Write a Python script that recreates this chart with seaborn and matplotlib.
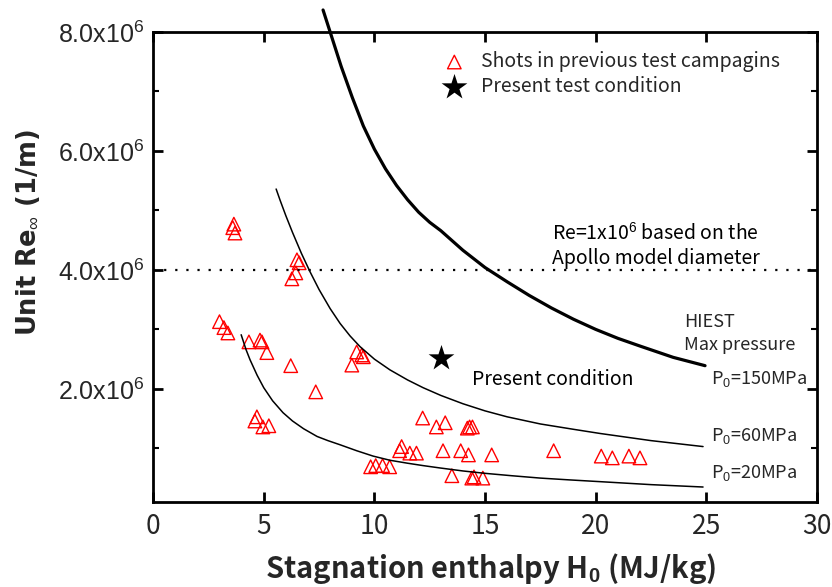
import numpy as np
import pandas as pd
import matplotlib
matplotlib.use("Agg")
import matplotlib.pyplot as plt
import seaborn as sns
from matplotlib.ticker import MultipleLocator, FuncFormatter

# Shots in previous test campaigns (H0 in MJ/kg, unit Re in 1e6 1/m)
prev_h0 = [3.65, 3.6, 3.7, 6.5, 6.6, 6.45, 6.27, 3.0, 3.2, 3.38,
           4.33, 4.83, 4.92, 5.14, 6.22, 7.35, 9.2, 9.43, 9.5, 8.98,
           4.69, 4.6, 4.96, 5.23, 12.18, 12.8, 13.2, 14.2, 14.3, 14.43,
           11.23, 11.14, 11.6, 11.9, 13.1, 13.9, 14.25, 15.3,
           9.83, 10.06, 10.37, 10.69, 13.5, 14.4, 14.5, 14.9,
           18.1, 20.25, 20.75, 21.5, 22.0]
prev_re = [4.77, 4.71, 4.62, 4.17, 4.12, 3.95, 3.85, 3.13, 3.03, 2.94,
           2.79, 2.82, 2.79, 2.61, 2.39, 1.95, 2.62, 2.57, 2.54, 2.40,
           1.53, 1.46, 1.36, 1.38, 1.51, 1.36, 1.43, 1.34, 1.36, 1.36,
           1.03, 0.96, 0.92, 0.92, 0.96, 0.96, 0.89, 0.89,
           0.69, 0.71, 0.71, 0.69, 0.54, 0.50, 0.52, 0.50,
           0.96, 0.87, 0.84, 0.87, 0.84]

# Present test condition
present_h0 = [13.0]
present_re = [2.52]

# HIEST max pressure curves
h0_150 = [7.68, 8.0, 8.5, 9.0, 9.5, 10.0, 10.5, 11.0, 11.5, 12.0, 12.5, 13.0, 14.0, 15.0,
          16.0, 17.0, 18.0, 19.0, 20.0, 21.0, 22.0, 23.5, 24.94]
re_150 = [8.37, 8.0, 7.42, 6.9, 6.42, 6.03, 5.70, 5.42, 5.18, 4.97, 4.80, 4.66, 4.33, 4.04,
          3.80, 3.57, 3.36, 3.17, 3.0, 2.85, 2.72, 2.53, 2.39]

h0_60 = [5.56, 5.74, 6.0, 6.3, 6.7, 7.09, 7.5, 8.0, 8.45, 8.9, 9.35, 10.0, 10.7, 11.5,
         12.2, 13.0, 14.0, 15.0, 16.0, 17.5, 19.0, 20.2, 22.5, 24.85]
re_60 = [5.36, 5.17, 4.91, 4.63, 4.28, 3.97, 3.67, 3.35, 3.10, 2.89, 2.71, 2.50, 2.32, 2.15,
         2.02, 1.89, 1.75, 1.63, 1.53, 1.41, 1.32, 1.25, 1.13, 1.03]

h0_20 = [3.98, 4.2, 4.38, 4.7, 5.0, 5.4, 5.87, 6.3, 6.8, 7.41, 7.9, 8.45, 9.2, 9.94, 10.7,
         11.5, 12.2, 12.97, 14.0, 15.0, 16.2, 17.5, 18.8, 20.2, 22.5, 24.85]
re_20 = [2.91, 2.66, 2.49, 2.23, 2.02, 1.80, 1.60, 1.46, 1.33, 1.20, 1.13, 1.06, 0.96, 0.87, 0.80,
         0.75, 0.71, 0.67, 0.62, 0.58, 0.54, 0.50, 0.47, 0.44, 0.39, 0.35]

apollo_re = 4.0

sns.set_theme(style="ticks")
plt.rcParams["font.family"] = ["Noto Sans CJK JP", "DejaVu Sans"]
plt.rcParams["mathtext.fontset"] = "custom"
plt.rcParams["mathtext.rm"] = "Liberation Sans"
plt.rcParams["mathtext.it"] = "Liberation Sans:italic"
plt.rcParams["mathtext.bf"] = "Liberation Sans:bold"

fig, ax = plt.subplots(figsize=(8.32, 5.87), dpi=100)
fig.subplots_adjust(left=0.184, right=0.982, bottom=0.145, top=0.9455)

df_prev = pd.DataFrame({"H0": prev_h0, "Re": prev_re})
df_now = pd.DataFrame({"H0": present_h0, "Re": present_re})

ax.axhline(apollo_re, color="black", lw=1.6, ls=(0, (1, 4)))

sns.lineplot(x=h0_150, y=re_150, sort=False, estimator=None, color="black", lw=2.3, ax=ax, clip_on=False)
sns.lineplot(x=h0_60, y=re_60, sort=False, estimator=None, color="black", lw=1.1, ax=ax)
sns.lineplot(x=h0_20, y=re_20, sort=False, estimator=None, color="black", lw=1.1, ax=ax)

sns.scatterplot(data=df_prev, x="H0", y="Re", marker="^", s=95, facecolors="none",
                edgecolor="red", linewidth=1.0, ax=ax, label="Shots in previous test campagins")
sns.scatterplot(data=df_now, x="H0", y="Re", marker="*", s=380, color="black",
                edgecolor="black", linewidth=0, ax=ax, label="Present test condition")

ax.set_xlim(0, 30)
ax.set_ylim(0.1, 8.0)
ax.set_xticks(range(0, 31, 5))
ax.yaxis.set_major_locator(MultipleLocator(2))
ax.yaxis.set_minor_locator(MultipleLocator(1))
ax.yaxis.set_major_formatter(FuncFormatter(lambda v, p: f"{v:.1f}x10$^6$"))

ax.tick_params(which="both", direction="in", top=True, right=True, color="black")
ax.tick_params(which="major", length=7, width=2, pad=6)
ax.tick_params(axis="y", labelsize=18, labelfontfamily="Liberation Sans")
ax.tick_params(axis="x", labelsize=19, labelfontfamily=["Noto Sans CJK JP", "DejaVu Sans"], pad=8)
ax.tick_params(which="minor", length=4, width=1.5)
for sp in ax.spines.values():
    sp.set_linewidth(2)
    sp.set_color("black")

ax.set_xlabel(r"Stagnation enthalpy H$_\mathbf{0}$ (MJ/kg)", fontsize=21, fontweight="bold",
              family=["Noto Sans CJK JP", "DejaVu Sans"])
ax.set_ylabel(r"Unit Re$_\infty$ (1/m)", fontsize=18.5, fontweight="bold", family="DejaVu Sans")
ax.xaxis.set_label_coords(0.509, -0.104)
ax.yaxis.set_label_coords(-0.168, 0.573)

txt = dict(fontsize=14, va="center", ha="left", color="black")
ax.text(18.03, 4.62, r"Re=1x10$^6$ based on the", **txt)
ax.text(18.03, 4.20, "Apollo model diameter", **txt)
ax.text(14.41, 2.15, "Present condition", **txt)
ax.text(24.0, 3.13, "HIEST", fontsize=13, va="center", ha="left")
ax.text(24.0, 2.74, "Max pressure", fontsize=13, va="center", ha="left")
ax.text(25.2, 2.17, r"P$_0$=150MPa", fontsize=13, va="center", ha="left")
ax.text(25.2, 1.21, r"P$_0$=60MPa", fontsize=13, va="center", ha="left")
ax.text(25.2, 0.59, r"P$_0$=20MPa", fontsize=13, va="center", ha="left")

handles, labels = ax.get_legend_handles_labels()
ax.legend(handles, labels, loc="upper left", bbox_to_anchor=(0.4215, 0.98), frameon=False,
          borderpad=0, handlelength=1.2, handletextpad=0.75, labelspacing=0.22, fontsize=14)

plt.savefig("out.png", dpi=100)
plt.close()
